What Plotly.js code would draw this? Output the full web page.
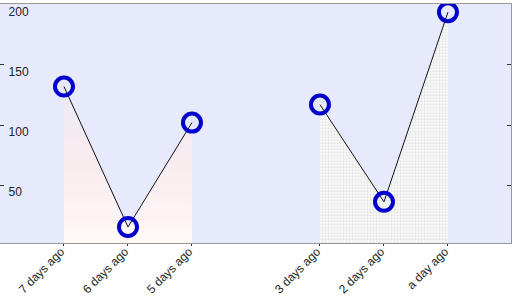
<!DOCTYPE html>
<html>
<head>
<meta charset="utf-8">
<script src="https://cdn.plot.ly/plotly-3.0.1.min.js"></script>
<style>html,body{margin:0;padding:0;background:#fff;}#chart{width:512px;height:300px;}</style>
</head>
<body>
<div id="chart"></div>
<script>
// Data
var tickLabels = ["7 days ago", "6 days ago", "5 days ago", "3 days ago", "2 days ago", "a day ago"];
var tickPositions = [0, 1, 2, 4, 5, 6];
var xFirst = [0, 1, 2];
var yFirst = [132, 15, 102];
var xSecond = [4, 5, 6];
var ySecond = [117, 36, 194];
var yTicks = [50, 100, 150, 200];

var markerStyle = {symbol: 'circle-open', size: 18, color: '#0000cc', line: {width: 4, color: '#0000cc'}};
var lineStyle = {color: '#111111', width: 1};

var traces = [
  {
    x: xFirst, y: yFirst, type: 'scatter', mode: 'lines+markers',
    line: lineStyle, marker: markerStyle, fill: 'tozeroy',
    fillgradient: {
      type: 'vertical', start: 0, stop: 140,
      colorscale: [[0, 'rgba(255,250,248,1)'], [0.5, 'rgba(252,236,236,0.85)'], [1, 'rgba(246,236,240,0.35)']]
    },
    hoverinfo: 'skip', showlegend: false
  },
  {
    x: xSecond, y: ySecond, type: 'scatter', mode: 'lines+markers',
    line: lineStyle, marker: markerStyle, fill: 'tozeroy',
    fillcolor: '#f6f6f6',
    fillpattern: {shape: '.', size: 3, solidity: 0.45, fgcolor: '#e6e6e6', bgcolor: '#fbfbfb', fillmode: 'replace'},
    hoverinfo: 'skip', showlegend: false
  }
];

var layout = {
  width: 512, height: 300,
  margin: {l: 0, r: 1, t: 4, b: 57},
  paper_bgcolor: '#ffffff',
  plot_bgcolor: '#e6eafc',
  font: {family: 'Liberation Sans, Arial, sans-serif', size: 12, color: '#222222'},
  xaxis: {
    range: [-1, 6.985],
    tickmode: 'array', tickvals: tickPositions, ticktext: tickLabels,
    tickangle: -45, ticks: 'outside', ticklen: 2, tickcolor: '#333',
    ticklabelshift: -3, ticklabelstandoff: -6,
    showgrid: false, zeroline: false,
    showline: true, linecolor: '#999999', linewidth: 1, mirror: true,
    tickfont: {size: 12, color: '#222'}
  },
  yaxis: {
    range: [1.7, 200.8],
    tickmode: 'array', tickvals: yTicks,
    ticks: 'inside', ticklen: 4, tickcolor: '#333',
    ticklabelposition: 'inside', ticklabelshift: 7, ticklabelstandoff: 4,
    showgrid: false, zeroline: false,
    showline: true, linecolor: '#999999', linewidth: 1, mirror: 'ticks',
    tickfont: {size: 12, color: '#222'}
  }
};

Plotly.newPlot('chart', traces, layout, {displayModeBar: false, staticPlot: true});
</script>
</body>
</html>
